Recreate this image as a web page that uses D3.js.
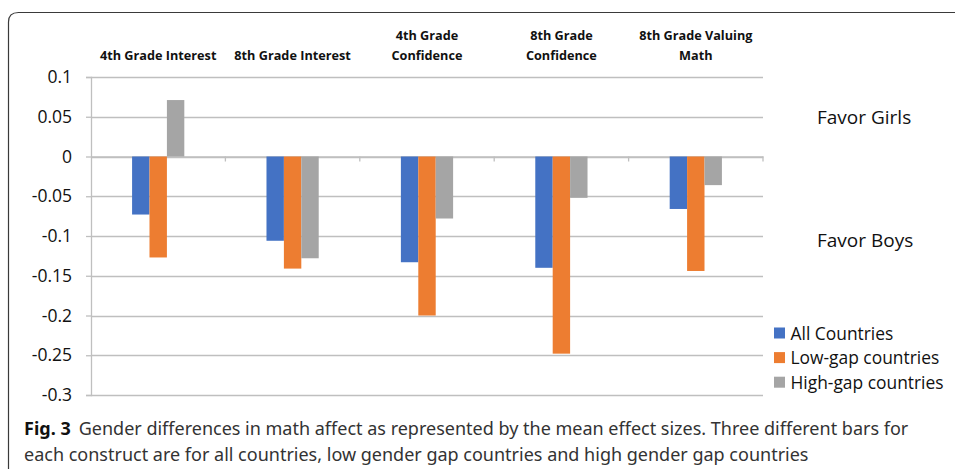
<!DOCTYPE html>
<html>
<head>
<meta charset="utf-8">
<script src="https://cdn.jsdelivr.net/npm/d3@7"></script>
<style>
  html, body { margin: 0; padding: 0; background: #fff; }
  svg { display: block; }
  .chart-text { font-family: "Open Sans", Lato, sans-serif; }
  .caption { font-family: "Noto Sans", "Open Sans", sans-serif; }
</style>
</head>
<body>
<svg id="fig" width="955" height="469"></svg>
<script>
// Constructs (one group of bars each)
const categories = [
  "4th Grade Interest",
  "8th Grade Interest",
  "4th Grade Confidence",
  "8th Grade Confidence",
  "8th Grade Valuing Math"
];
// Mean effect sizes per country group
const seriesNames = ["All Countries", "Low-gap countries", "High-gap countries"];
const allCountries = [-0.073, -0.106, -0.133, -0.140, -0.066];
const lowGap       = [-0.127, -0.141, -0.200, -0.248, -0.144];
const highGap      = [ 0.071, -0.128, -0.078, -0.052, -0.036];
const seriesColors = ["#4472C4", "#ED7D31", "#A5A5A5"];
const yTicks = [0.1, 0.05, 0, -0.05, -0.1, -0.15, -0.2, -0.25, -0.3];
const captionLines = [
  ["Fig. 3", "Gender differences in math affect as represented by the mean effect sizes. Three different bars for"],
  ["", "each construct are for all countries, low gender gap countries and high gender gap countries"]
];

const series = [allCountries, lowGap, highGap];
const rows = categories.map((c, i) => ({
  cat: c,
  vals: series.map((s, j) => ({ key: seriesNames[j], v: s[i], color: seriesColors[j] }))
}));

const svg = d3.select("#fig");

// Figure frame: top edge and left edge with a rounded corner
svg.append("path")
  .attr("d", "M8.5,469 L8.5,22 Q8.5,12.5 18.5,12.5 L955,12.5")
  .attr("fill", "none")
  .attr("stroke", "#3a3a3a")
  .attr("stroke-width", 1.2);

const plot = { left: 91, right: 763, top: 77, bottom: 395 };

const x = d3.scaleBand()
  .domain(categories)
  .range([plot.left, plot.right]);

const x1 = d3.scaleBand()
  .domain(seriesNames)
  .range([0, x.bandwidth()])
  .paddingInner(0)
  .paddingOuter(2.36);

const y = d3.scaleLinear()
  .domain([-0.3, 0.1])
  .range([plot.bottom, plot.top]);

// Y axis with labels
const yAxis = d3.axisLeft(y)
  .tickValues(yTicks)
  .tickSize(5)
  .tickPadding(14)
  .tickFormat(d => d3.format("")(+d.toFixed(2)).replace("−", "-"));

const gy = svg.append("g")
  .attr("transform", `translate(${plot.left},0)`)
  .call(yAxis);
gy.select(".domain").attr("stroke", "#bfbfbf").attr("stroke-width", 1.3);
gy.selectAll(".tick line").attr("stroke", "#bfbfbf").attr("stroke-width", 1.3);
gy.selectAll(".tick text")
  .attr("class", "chart-text")
  .attr("font-size", 17.5)
  .attr("fill", "#111");

// Horizontal gridlines
svg.append("g")
  .selectAll("line")
  .data(yTicks)
  .join("line")
  .attr("x1", plot.left)
  .attr("x2", plot.right)
  .attr("y1", d => Math.round(y(d)) + 0.5)
  .attr("y2", d => Math.round(y(d)) + 0.5)
  .attr("stroke", "#bfbfbf")
  .attr("stroke-width", 1.3);

// Category axis along zero with small tick marks between groups
const gx = svg.append("g")
  .attr("transform", `translate(0,${y(0)})`)
  .call(d3.axisBottom(x).tickSize(0).tickFormat(""));
gx.select(".domain").attr("stroke", "#bfbfbf").attr("stroke-width", 1.3);
svg.append("g")
  .selectAll("line")
  .data(categories)
  .join("line")
  .attr("x1", d => x(d) + x.bandwidth())
  .attr("x2", d => x(d) + x.bandwidth())
  .attr("y1", y(0))
  .attr("y2", y(0) + 5)
  .attr("stroke", "#bfbfbf")
  .attr("stroke-width", 1.3);

// Bars
svg.append("g")
  .selectAll("g")
  .data(rows)
  .join("g")
  .attr("transform", d => `translate(${x(d.cat)},0)`)
  .selectAll("rect")
  .data(d => d.vals)
  .join("rect")
  .attr("x", d => x1(d.key))
  .attr("width", x1.bandwidth())
  .attr("y", d => y(Math.max(0, d.v)))
  .attr("height", d => Math.abs(y(d.v) - y(0)))
  .attr("fill", d => d.color);

// Category headers, wrapped to the group width
const headers = svg.append("g")
  .selectAll("text")
  .data(categories)
  .join("text")
  .attr("class", "chart-text")
  .attr("text-anchor", "middle")
  .attr("font-size", 12.7)
  .attr("font-weight", "bold")
  .attr("fill", "#111")
  .attr("x", d => x(d) + x.bandwidth() / 2);

headers.each(function (d) {
  const t = d3.select(this);
  const maxW = x.bandwidth() * 0.92;
  const words = d.split(" ");
  const lines = [];
  let cur = [];
  const probe = t.append("tspan");
  for (const w of words) {
    const test = cur.concat([w]).join(" ");
    probe.text(test);
    if (probe.node().getComputedTextLength() > maxW && cur.length) {
      lines.push(cur.join(" "));
      cur = [w];
    } else {
      cur.push(w);
    }
  }
  lines.push(cur.join(" "));
  probe.remove();
  const baseY = 60;
  lines.forEach((ln, i) => {
    t.append("tspan")
      .attr("x", x(d) + x.bandwidth() / 2)
      .attr("y", baseY - (lines.length - 1 - i) * 20)
      .text(ln);
  });
});

// Direction notes
svg.append("text")
  .attr("class", "chart-text")
  .attr("x", 817).attr("y", 124)
  .attr("font-size", 19).attr("fill", "#111")
  .text("Favor Girls");
svg.append("text")
  .attr("class", "chart-text")
  .attr("x", 817).attr("y", 247)
  .attr("font-size", 19).attr("fill", "#111")
  .text("Favor Boys");

// Legend
const legend = svg.append("g")
  .selectAll("g")
  .data(seriesNames)
  .join("g")
  .attr("transform", (d, i) => `translate(774,${333 + i * 24.6})`);
legend.append("rect")
  .attr("x", 0).attr("y", -5.5)
  .attr("width", 11).attr("height", 11)
  .attr("fill", (d, i) => seriesColors[i]);
legend.append("text")
  .attr("class", "chart-text")
  .attr("x", 16.5).attr("y", 6.5)
  .attr("font-size", 17.4).attr("fill", "#111")
  .text(d => d);

// Caption
const cap = svg.append("g").attr("class", "caption");
captionLines.forEach((ln, i) => {
  const t = cap.append("text")
    .attr("x", 24)
    .attr("y", 435 + i * 25.5)
    .attr("font-size", 18)
    .attr("fill", "#333");
  if (ln[0]) {
    t.append("tspan").attr("font-weight", "bold").attr("fill", "#111").text(ln[0]);
    t.append("tspan").attr("dx", 8).text(ln[1]);
  } else {
    t.append("tspan").text(ln[1]);
  }
});
</script>
</body>
</html>
